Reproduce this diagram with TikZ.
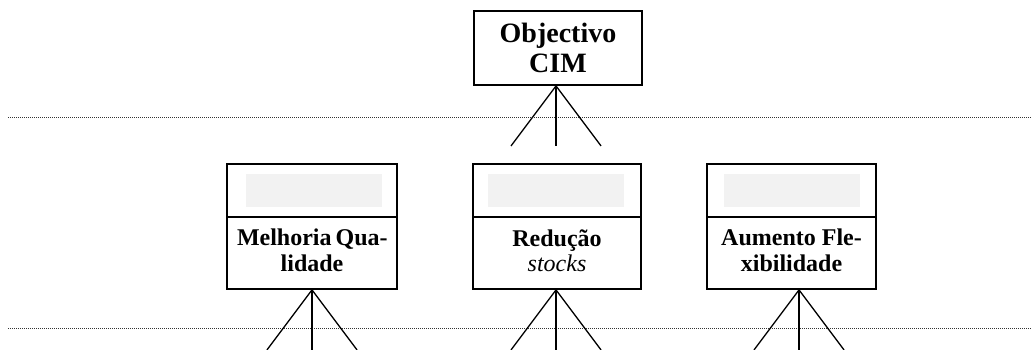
\documentclass[tikz,border=0pt]{standalone}
\usepackage{fontspec}
\setmainfont{Liberation Serif}
\begin{document}
\begin{tikzpicture}[x=1pt,y=-1pt,
  frame/.style={draw, line width=1.8pt, inner sep=0pt, align=center},
  slot/.style={fill=black!5, draw=none, minimum width=136pt, minimum height=33pt, inner sep=0pt},
  fan/.style={line width=1.3pt},
  level/.style={line width=0.7pt, dash pattern=on 1pt off 1pt, black!80},
  toptext/.style={font=\fontsize{28}{30}\selectfont\bfseries},
  lowtext/.style={font=\fontsize{24}{25.5}\selectfont\bfseries}]
\useasboundingbox (0,0) rectangle (1032,349);

% level separators
\coordinate (l1a) at (8,117.5);  \coordinate (l1b) at (1032,117.5);
\coordinate (l2a) at (8,328.5);  \coordinate (l2b) at (1032,328.5);
\draw[level] (l1a) -- (l1b);
\draw[level] (l2a) -- (l2b);

% top objective
\node[frame, minimum width=168pt, minimum height=74pt, toptext] (cim) at (558,48) {Objectivo\\CIM};

% second level boxes: header with empty slot, body with label
\node[frame, minimum width=170pt, minimum height=53pt] (lhead) at (312,190.5) {};
\node[frame, minimum width=170pt, minimum height=72pt] (lbody) at (312,253) {};
\node[slot] (lslot) at (313.5,190.5) {};
\node[lowtext, align=center] (ltext) at (312,250.5) {\makebox[150pt][s]{Melhoria Qua-}\\lidade};

\node[frame, minimum width=168pt, minimum height=53pt] (mhead) at (557,190.5) {};
\node[frame, minimum width=168pt, minimum height=72pt] (mbody) at (557,253) {};
\node[slot] (mslot) at (556,190.5) {};
\node[lowtext, align=center] (mtext) at (557,250.5) {Redução\\{\mdseries\itshape stocks}};

\node[frame, minimum width=169pt, minimum height=53pt] (rhead) at (791.5,190.5) {};
\node[frame, minimum width=169pt, minimum height=72pt] (rbody) at (791.5,253) {};
\node[slot] (rslot) at (792,190.5) {};
\node[lowtext, align=center] (rtext) at (791.5,250.5) {Aumento Fle-\\xibilidade};

% fans below each box
\coordinate (capex) at ([xshift=-2pt]cim.south);
\coordinate (lapex) at (lbody.south);
\coordinate (mapex) at ([xshift=-1pt]mbody.south);
\coordinate (rapex) at ([xshift=7.5pt]rbody.south);
\foreach \a in {capex,lapex,mapex,rapex}{
  \coordinate (\a-l) at ([shift={(-45,60)}]\a);
  \coordinate (\a-m) at ([shift={(0,60)}]\a);
  \coordinate (\a-r) at ([shift={(45,60)}]\a);
  \draw[fan] (\a-l) -- (\a) -- (\a-r);
  \draw[fan] (\a) -- (\a-m);
}
\end{tikzpicture}
\end{document}
